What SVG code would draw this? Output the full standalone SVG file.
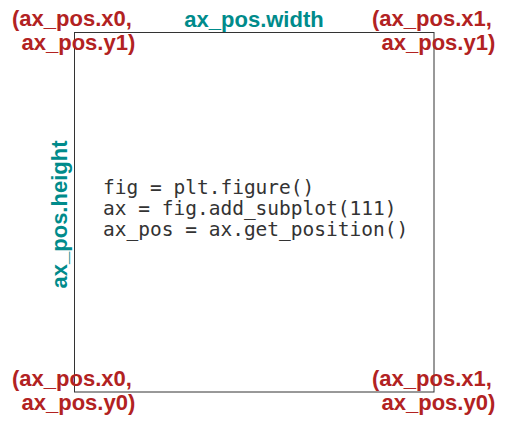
<svg xmlns="http://www.w3.org/2000/svg" width="507" height="425" viewBox="0 0 507 425">
<style>
.corner{font-family:"Liberation Sans",Arial,Helvetica,sans-serif;font-weight:bold;font-size:22px;fill:#b22222}
.dim{font-family:"Liberation Sans",Arial,Helvetica,sans-serif;font-weight:bold;font-size:22px;fill:#008b8b}
.code{font-family:"DejaVu Sans Mono",monospace;font-size:19.5px;fill:#333333}
.axes{fill:#ffffff;stroke:#333333;stroke-width:1}
</style>
<rect width="507" height="425" fill="#ffffff"/>
<g id="axes-box">
<rect class="axes" x="74.5" y="32.5" width="359.5" height="359.5"/>
</g>
<g id="code">
<text class="code" x="103" y="194">fig = plt.figure()</text>
<text class="code" x="103" y="215">ax = fig.add_subplot(111)</text>
<text class="code" x="103" y="236">ax_pos = ax.get_position()</text>
</g>
<g id="label-top-left">
<text class="corner" x="12" y="26">(ax_pos.x0,</text>
<text class="corner" x="21.5" y="49.5">ax_pos.y1)</text>
</g>
<g id="label-top-right">
<text class="corner" x="372" y="26">(ax_pos.x1,</text>
<text class="corner" x="381.5" y="49.5">ax_pos.y1)</text>
</g>
<g id="label-bottom-left">
<text class="corner" x="12" y="386">(ax_pos.x0,</text>
<text class="corner" x="21.5" y="409.5">ax_pos.y0)</text>
</g>
<g id="label-bottom-right">
<text class="corner" x="372" y="386">(ax_pos.x1,</text>
<text class="corner" x="381.5" y="409.5">ax_pos.y0)</text>
</g>
<g id="label-width">
<text class="dim" x="254" y="27" text-anchor="middle">ax_pos.width</text>
</g>
<g id="label-height">
<text class="dim" transform="translate(66.5,214.5) rotate(-90)" text-anchor="middle">ax_pos.height</text>
</g>
<g id="connectors"></g>
</svg>
